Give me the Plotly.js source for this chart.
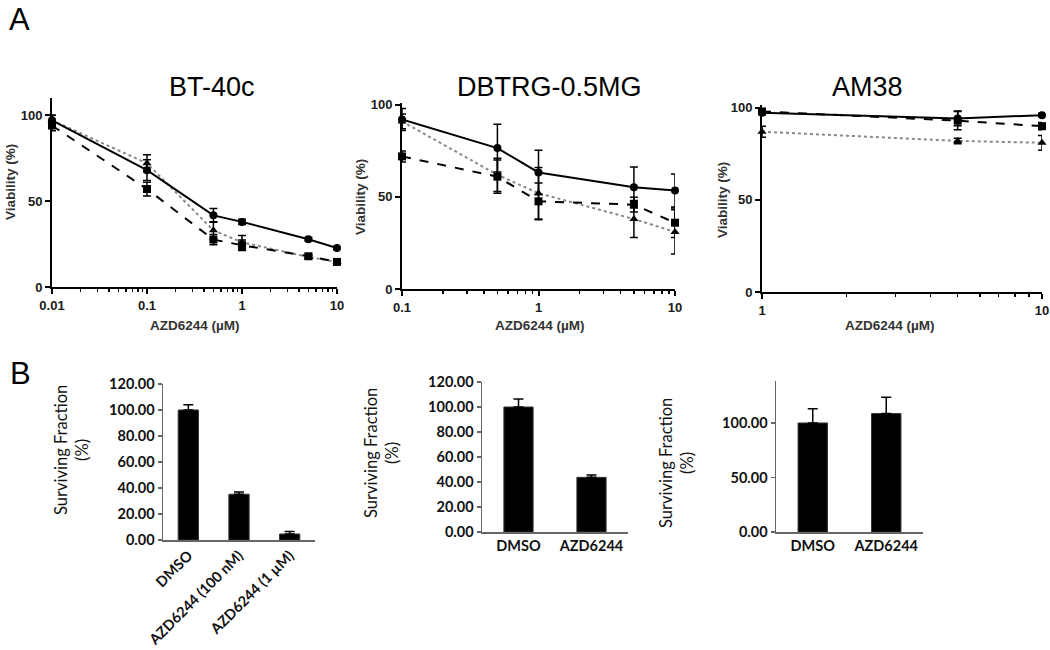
<!DOCTYPE html>
<html>
<head>
<meta charset="utf-8">
<script src="https://cdn.plot.ly/plotly-3.0.1.min.js"></script>
<style>html,body{margin:0;padding:0;background:#fff}#chart{width:1050px;height:650px}</style>
</head>
<body>
<div id="chart"></div>
<script>
// ---- Panel A data ----
const btX = [0.01, 0.1, 0.5, 1, 5, 10];
const btSolid = [97, 68, 41.7, 37.9, 27.8, 22.7];
const btSolidErr = [3, 6, 4, 1.5, 1, 1];
const btDashed = [94, 57, 27.6, 24.3, 17.9, 14.6];
const btDashedErr = [3, 4, 3, 3, 1, 1.5];
const btDotted = [97, 72, 33, 26, 17.5, 14.6];
const btDottedErr = [3, 5, 5, 4, 1, 1];

const dbX = [0.1, 0.5, 1, 5, 10];
const dbSolid = [92, 76.5, 63.3, 55.3, 53.5];
const dbSolidErr = [6, 13, 12, 11, 9];
const dbDashed = [72, 61, 47.6, 45.8, 36];
const dbDashedErr = [3, 9, 10, 4, 8];
const dbDotted = [91, 62, 52, 38, 31];
const dbDottedErr = [4, 9, 14, 10, 12];

const amX = [1, 5, 10];
const amSolid = [97.3, 94.2, 96];
const amSolidErr = [1, 4, 1];
const amDashed = [98, 93, 90];
const amDashedErr = [1, 5, 2];
const amDotted = [87, 82, 81];
const amDottedErr = [3, 1.5, 4];

const titlesA = ["BT-40c", "DBTRG-0.5MG", "AM38"];

// ---- Panel B data ----
const b1Cats = ["DMSO", "AZD6244 (100 nM)", "AZD6244 (1 µM)"];
const b1Vals = [100, 35.2, 4.6];
const b1Err = [4, 1.8, 2];
const b2Cats = ["DMSO", "AZD6244"];
const b2Vals = [100, 43.7];
const b2Err = [6.5, 1.8];
const b3Cats = ["DMSO", "AZD6244"];
const b3Vals = [100, 108.6];
const b3Err = [13, 15];

function lineSet(x, ys, errs, xa, ya) {
  const styles = [
    {dash: 'solid', color: '#000', sym: 'circle'},
    {dash: 'dash', color: '#000', sym: 'square'},
    {dash: 'dot', color: '#888', sym: 'triangle-up'}
  ];
  return ys.map((y, i) => ({
    type: 'scatter', mode: 'lines+markers', x: x, y: y, xaxis: xa, yaxis: ya,
    cliponaxis: false,
    line: {color: styles[i].color, width: 2, dash: styles[i].dash},
    marker: {symbol: styles[i].sym, color: '#000', size: 8},
    error_y: {type: 'data', array: errs[i], color: '#000', thickness: 1.5, width: 4}
  })).reverse();
}

function barSet(cats, vals, errs, xa, ya) {
  return {
    type: 'bar', x: cats, y: vals, xaxis: xa, yaxis: ya, width: 0.4,
    marker: {color: '#000', line: {color: '#333', width: 1}},
    error_y: {type: 'data', array: errs, arrayminus: errs.map(() => 0), symmetric: false,
              color: '#000', thickness: 1.5, width: 5}
  };
}

const data = [].concat(
  lineSet(btX, [btSolid, btDashed, btDotted], [btSolidErr, btDashedErr, btDottedErr], 'x', 'y'),
  lineSet(dbX, [dbSolid, dbDashed, dbDotted], [dbSolidErr, dbDashedErr, dbDottedErr], 'x2', 'y2'),
  lineSet(amX, [amSolid, amDashed, amDotted], [amSolidErr, amDashedErr, amDottedErr], 'x3', 'y3'),
  [barSet(b1Cats, b1Vals, b1Err, 'x4', 'y4'),
   barSet(b2Cats, b2Vals, b2Err, 'x5', 'y5'),
   barSet(b3Cats, b3Vals, b3Err, 'x6', 'y6')]
);

const tickFontA = {family: 'Arial, Liberation Sans, sans-serif', size: 13, color: '#1a1a1a', weight: 'bold'};
const tickFontB = {family: 'Lato, sans-serif', size: 14.5, color: '#111', weight: 'bold'};

function logAxis(dom, rng, tv, tt, minorVals) {
  return {
    domain: dom, type: 'log', range: rng, showgrid: false, zeroline: false,
    showline: true, linecolor: '#000', linewidth: 2,
    ticks: 'outside', ticklen: 5, tickwidth: 2, tickcolor: '#000',
    tickmode: 'array', tickvals: tv, ticktext: tt, tickfont: tickFontA,
    minor: {tickmode: 'array', tickvals: minorVals, ticks: 'outside', ticklen: 3, tickwidth: 1.5, tickcolor: '#000'},
    fixedrange: true
  };
}
function linAxisA(dom, rng, anchor) {
  return {
    domain: dom, range: rng, showgrid: false, zeroline: false, anchor: anchor,
    showline: true, linecolor: '#000', linewidth: 2,
    ticks: 'outside', ticklen: 5, tickwidth: 2, tickcolor: '#000',
    tickmode: 'array', tickvals: [0, 50, 100], ticktext: ['0', '50', '100'],
    tickfont: tickFontA, fixedrange: true
  };
}
function catAxis(dom, n, angle) {
  return {
    domain: dom, type: 'category', range: [-0.5, n - 0.5], showgrid: false, zeroline: false,
    showline: true, linecolor: '#666', linewidth: 1.5, ticks: '',
    tickfont: tickFontB, tickangle: angle, fixedrange: true
  };
}
function linAxisB(dom, rng, tv, anchor) {
  return {
    domain: dom, range: rng, showgrid: false, zeroline: false, anchor: anchor,
    showline: true, linecolor: '#666', linewidth: 1.5,
    ticks: 'outside', ticklen: 4, tickwidth: 1.5, tickcolor: '#666',
    tickmode: 'array', tickvals: tv, ticktext: tv.map(v => v.toFixed(2)),
    tickfont: tickFontB, fixedrange: true
  };
}

function minorsBetween(lo, hi) {
  const out = [];
  for (let d = lo; d < hi; d *= 10) for (let k = 2; k <= 9; k++) out.push(+(k * d).toPrecision(3));
  return out;
}

const W = 1050, H = 650;
const px = x => x / W, py = y => 1 - y / H;

const annFontA = {family: 'Arial, Liberation Sans, sans-serif', size: 13.5, color: '#333', weight: 'bold'};
const annFontB = {family: 'Lato, sans-serif', size: 16.5, color: '#111'};
const letterFont = {family: 'Arial, Liberation Sans, sans-serif', size: 31, color: '#000'};
const titleFont = {family: 'Arial, Liberation Sans, sans-serif', size: 27, color: '#000'};
const annotations = [
  {text: 'A', x: px(19), y: py(19), font: letterFont},
  {text: 'B', x: px(20), y: py(373), font: letterFont},
  {text: titlesA[0], x: px(212), y: py(87), font: titleFont},
  {text: titlesA[1], x: px(549), y: py(87), font: titleFont},
  {text: titlesA[2], x: px(867), y: py(87), font: titleFont},
  {text: 'Viability (%)', x: px(10), y: py(182), textangle: -90, font: annFontA},
  {text: 'Viability (%)', x: px(361), y: py(197), textangle: -90, font: annFontA},
  {text: 'Viability (%)', x: px(722), y: py(200), textangle: -90, font: annFontA},
  {text: 'AZD6244 (µM)', x: px(195), y: py(326), font: annFontA},
  {text: 'AZD6244 (µM)', x: px(540), y: py(326), font: annFontA},
  {text: 'AZD6244 (µM)', x: px(890), y: py(326), font: annFontA},
  {text: 'Surviving Fraction<br>(%)', x: px(71), y: py(450), textangle: -90, font: annFontB},
  {text: 'Surviving Fraction<br>(%)', x: px(381), y: py(453), textangle: -90, font: annFontB},
  {text: 'Surviving Fraction<br>(%)', x: px(676), y: py(463), textangle: -90, font: annFontB}
].map(a => Object.assign({xref: 'paper', yref: 'paper', showarrow: false, xanchor: 'center', yanchor: 'middle', borderpad: 0}, a));

const layout = {
  width: W, height: H, margin: {l: 0, r: 0, t: 0, b: 0},
  paper_bgcolor: '#fff', plot_bgcolor: 'rgba(0,0,0,0)', showlegend: false,
  xaxis: Object.assign(logAxis([px(52), px(337)], [-2, 1], [0.01, 0.1, 1, 10], ['0.01', '0.1', '1', '10'], minorsBetween(0.01, 10)), {anchor: 'y'}),
  yaxis: linAxisA([py(287), py(98)], [0, 110], 'x'),
  xaxis2: Object.assign(logAxis([px(402), px(675)], [-1, 1], [0.1, 1, 10], ['0.1', '1', '10'], minorsBetween(0.1, 10)), {anchor: 'y2'}),
  yaxis2: linAxisA([py(289), py(103)], [0, 101], 'x2'),
  xaxis3: Object.assign(logAxis([px(762), px(1042)], [0, 1], [1, 10], ['1', '10'], minorsBetween(1, 10)), {anchor: 'y3'}),
  yaxis3: linAxisA([py(292), py(105)], [0, 101.5], 'x3'),
  xaxis4: Object.assign(catAxis([px(163), px(315)], 3, -45), {anchor: 'y4'}),
  yaxis4: linAxisB([py(540), py(384)], [0, 120], [0, 20, 40, 60, 80, 100, 120], 'x4'),
  xaxis5: Object.assign(catAxis([px(482), px(628)], 2, 0), {anchor: 'y5'}),
  yaxis5: linAxisB([py(532), py(382)], [0, 120], [0, 20, 40, 60, 80, 100, 120], 'x5'),
  xaxis6: Object.assign(catAxis([px(776), px(923)], 2, 0), {anchor: 'y6'}),
  yaxis6: linAxisB([py(532), py(381)], [0, 138.5], [0, 50, 100], 'x6'),
  annotations: annotations
};

Plotly.newPlot('chart', data, layout, {displayModeBar: false, staticPlot: true});
</script>
</body>
</html>
